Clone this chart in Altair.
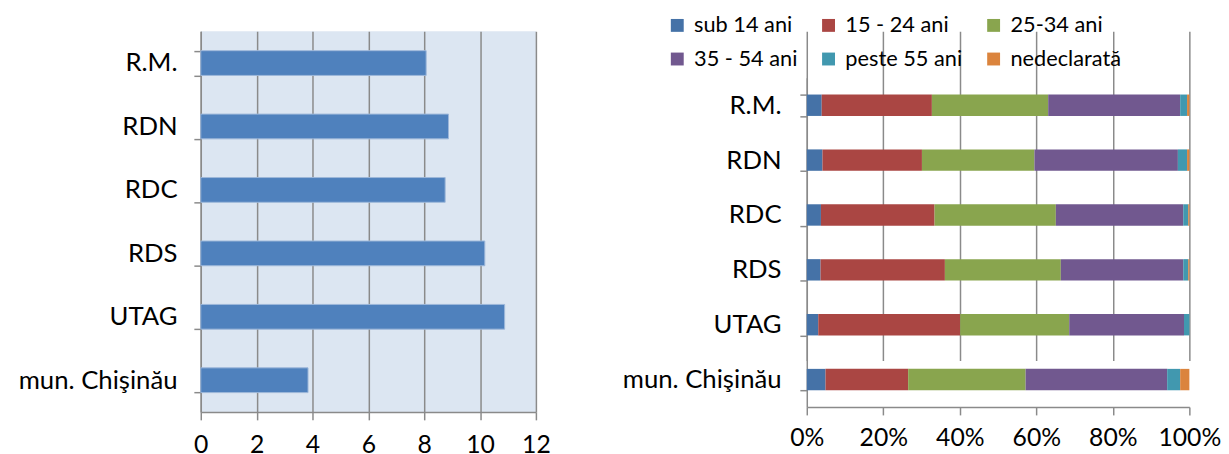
import altair as alt
import pandas as pd

# ---- data ----
regions = ["R.M.", "RDN", "RDC", "RDS", "UTAG", "mun. Chişinău"]
rate = [8.07, 8.87, 8.75, 10.17, 10.88, 3.84]

groups = ["sub 14 ani", "15 - 24 ani", "25-34 ani", "35 - 54 ani", "peste 55 ani", "nedeclarată"]
sub14 = [3.9, 4.1, 3.7, 3.6, 3.0, 4.9]
g15_24 = [28.8, 26.0, 29.7, 32.5, 37.1, 21.6]
g25_34 = [30.4, 29.4, 31.7, 30.3, 28.5, 30.7]
g35_54 = [34.5, 37.5, 33.3, 32.0, 30.0, 37.0]
peste55 = [1.8, 2.4, 1.3, 1.3, 1.4, 3.4]
nedecl = [0.6, 0.6, 0.3, 0.3, 0.0, 2.4]
colors = ["#4572A7", "#AA4643", "#89A54E", "#71588F", "#4198AF", "#DB843D"]

FONT = "Lato"
GRID = "#8a8a8a"

df1 = pd.DataFrame({"region": regions, "rate": rate})

series = [sub14, g15_24, g25_34, g35_54, peste55, nedecl]
rows = []
for gi, (g, vals) in enumerate(zip(groups, series)):
    for r, v in zip(regions, vals):
        rows.append({"region": r, "group": g, "order": gi, "value": v})
df2 = pd.DataFrame(rows)

# ---- left chart ----
left = alt.Chart(df1).mark_bar(color="#4F81BD", stroke="#9DB7DA", strokeWidth=1).encode(
    x=alt.X("rate:Q", scale=alt.Scale(domain=[0, 12], nice=False),
            axis=alt.Axis(title=None, values=[0, 2, 4, 6, 8, 10, 12], grid=True,
                          gridColor=GRID, gridWidth=1.5, domainColor=GRID, domainWidth=1.5,
                          tickColor=GRID, tickWidth=1.5, tickSize=8, labelPadding=13,
                          labelFlush=False, labelOverlap=False,
                          labelFont=FONT, labelFontSize=25, labelColor="#000")),
    y=alt.Y("region:N", sort=regions,
            scale=alt.Scale(paddingInner=0.61, paddingOuter=0.305),
            axis=alt.Axis(title=None, tickBand="extent", grid=False,
                          domainColor=GRID, domainWidth=1.5, tickColor=GRID, tickWidth=1.5,
                          tickSize=7, labelPadding=17, labelFont=FONT, labelFontSize=26,
                          labelColor="#000", minExtent=195, maxExtent=195)),
).properties(width=339, height=385, view=alt.ViewBackground(fill="#DCE6F2", stroke=None))

# ---- right chart ----
right = alt.Chart(df2).mark_bar().encode(
    x=alt.X("value:Q", stack="normalize",
            scale=alt.Scale(domain=[0, 1], nice=False),
            axis=alt.Axis(title=None, format="%", values=[0, 0.2, 0.4, 0.6, 0.8, 1.0], grid=True,
                          gridColor=GRID, gridWidth=1.5, domainColor=GRID, domainWidth=1.5,
                          tickColor=GRID, tickWidth=1.5, tickSize=8, labelPadding=11,
                          labelFlush=False, labelOverlap=False,
                          labelFont=FONT, labelFontSize=25, labelColor="#000")),
    y=alt.Y("region:N", sort=regions,
            scale=alt.Scale(paddingInner=0.61, paddingOuter=0.305, range=[47, 380]),
            axis=alt.Axis(title=None, tickBand="extent", grid=False,
                          domainColor=GRID, domainWidth=1.5, tickColor=GRID, tickWidth=1.5,
                          tickSize=7, labelPadding=19, labelFont=FONT, labelFontSize=26,
                          labelColor="#000", minExtent=196, maxExtent=196)),
    color=alt.Color("group:N", scale=alt.Scale(domain=groups, range=colors),
                    legend=alt.Legend(title=None, orient="none", legendX=-142, legendY=-17,
                                      direction="horizontal",
                                      columns=3, symbolType="square", symbolSize=170,
                                      symbolStrokeWidth=0,
                                      labelFont=FONT,
                                      labelFontSize=22,
                                      labelColor="#000", labelOffset=6, columnPadding=20,
                                      rowPadding=12)),
    order=alt.Order("order:Q"),
).properties(width=387, height=380, view=alt.ViewBackground(fill="white", stroke=None))

chart = alt.hconcat(left, right, spacing=63).resolve_legend(color="independent").resolve_scale(
    color="independent"
).properties(
    padding={"left": 0, "top": 4, "right": 0, "bottom": 0}
).configure_view(stroke=None)

chart.save("out.html", embed_options={"renderer": "svg", "actions": False})
